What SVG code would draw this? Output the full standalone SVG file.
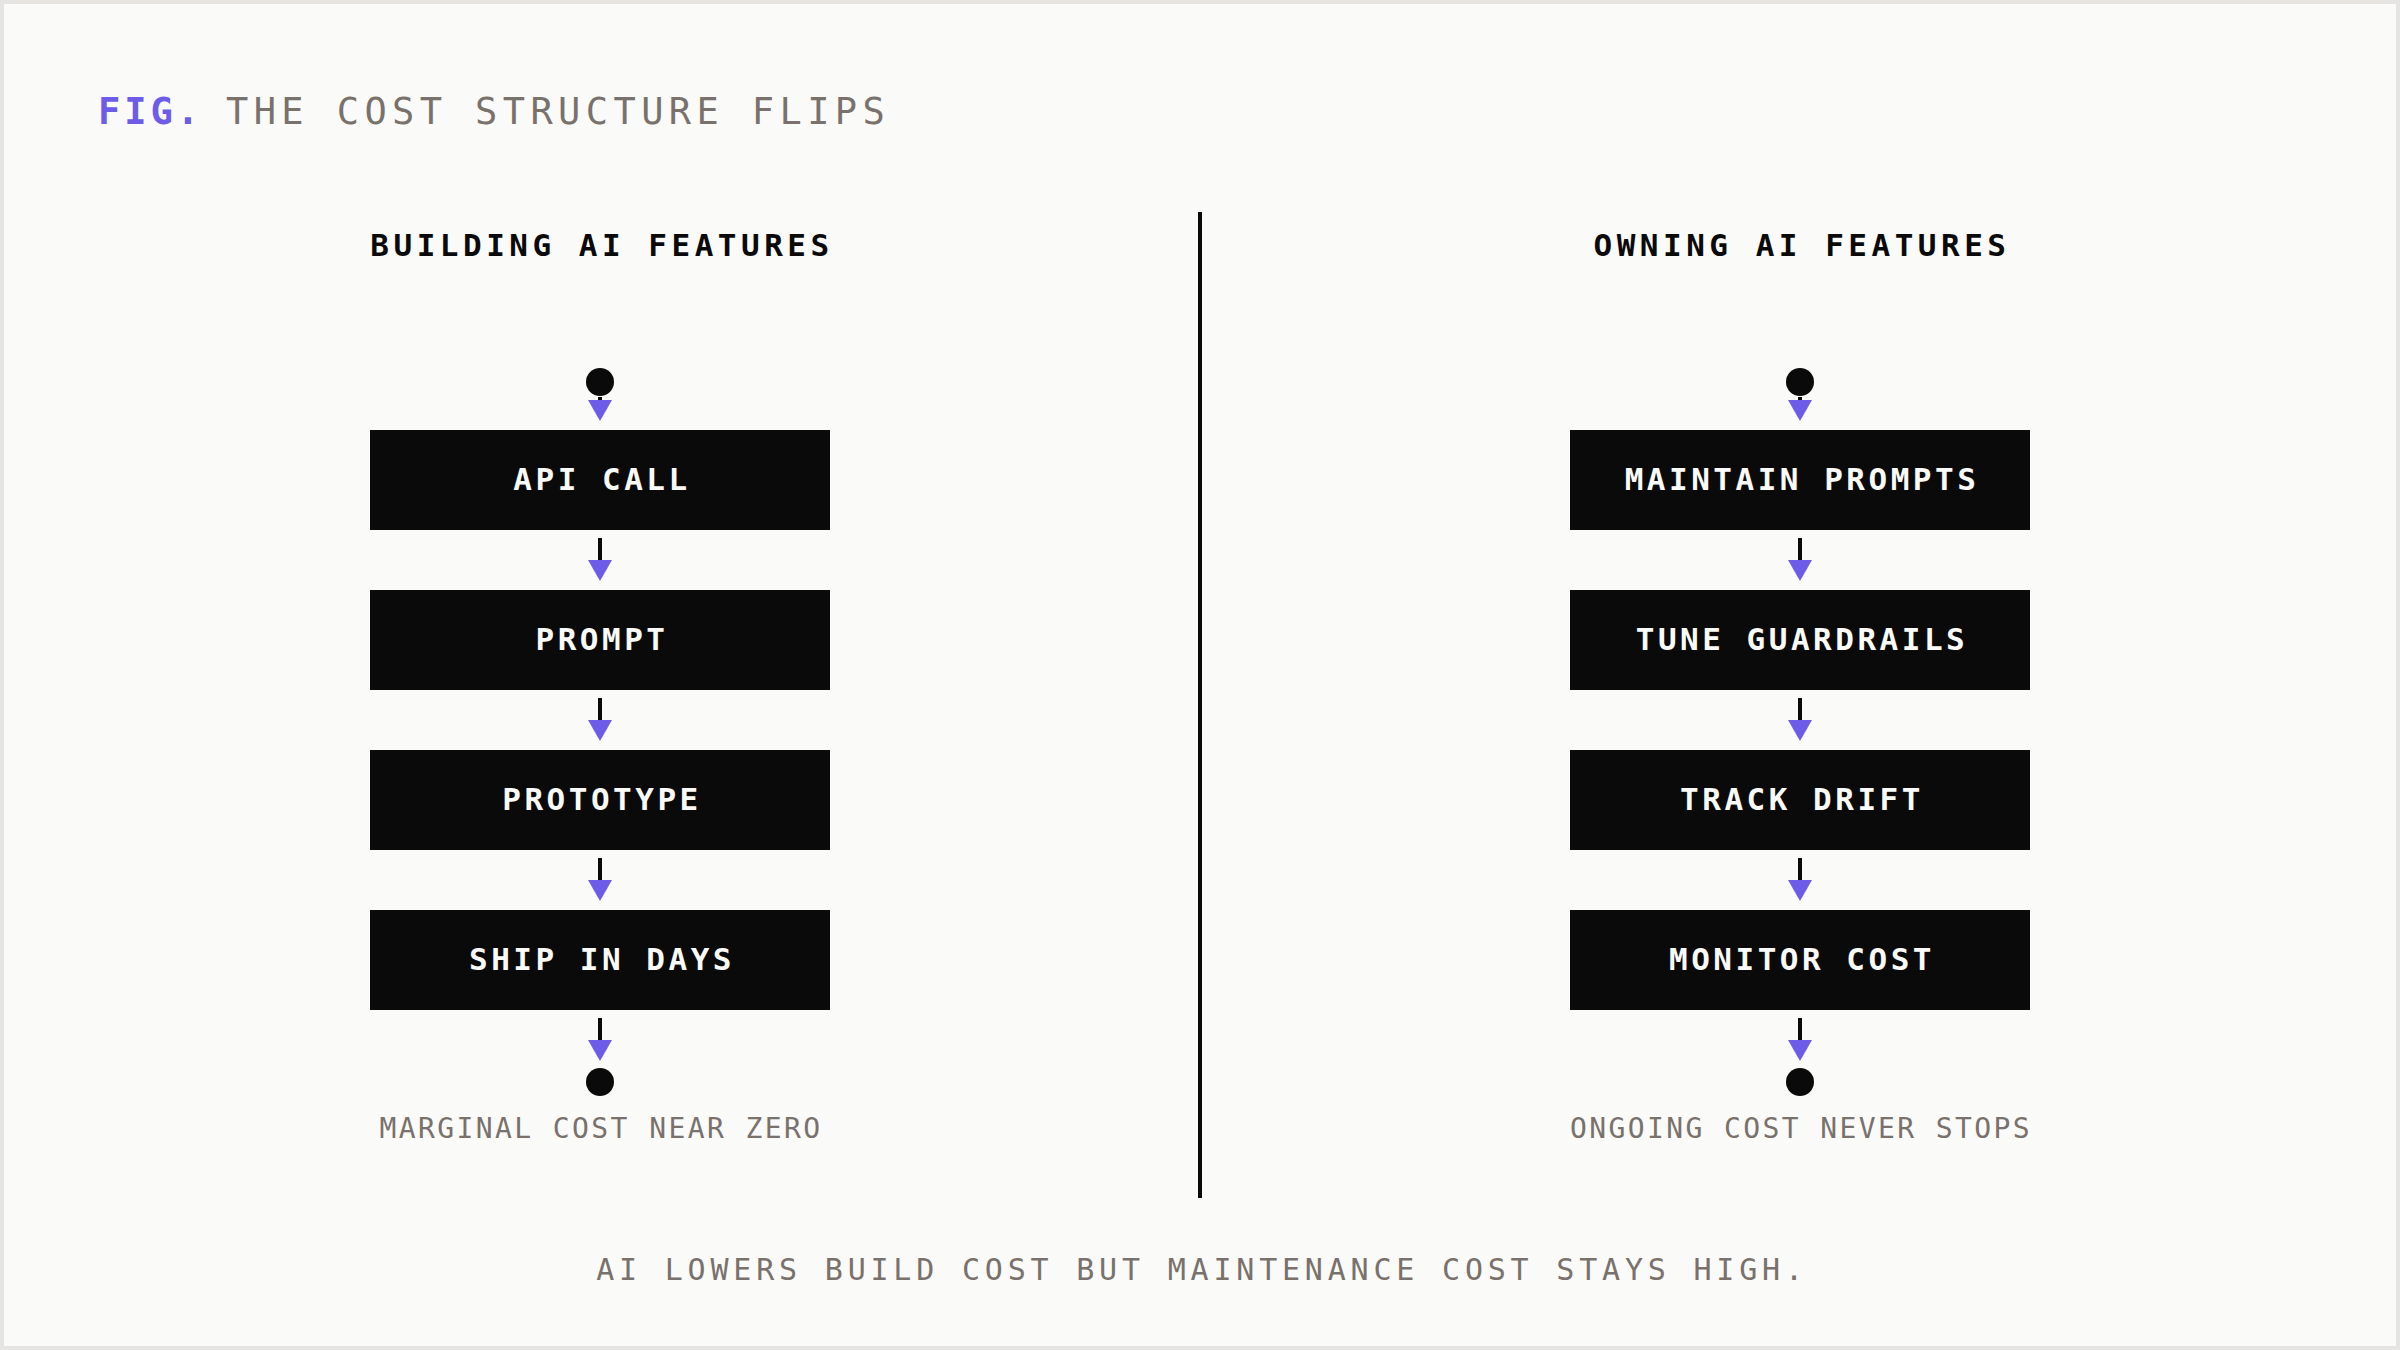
<svg xmlns="http://www.w3.org/2000/svg" width="2400" height="1350" viewBox="0 0 2400 1350">
<defs>
<style>
.mono{font-family:"DejaVu Sans Mono","Liberation Mono",monospace}
.title{font-size:37px;letter-spacing:5.4px;fill:#79716b}
.fig{font-size:37px;letter-spacing:4px;fill:#6c5ce7;font-weight:bold}
.head{font-size:31px;letter-spacing:4.5px;fill:#0a0a0a;font-weight:bold;text-anchor:middle}
.box{fill:#0a0a0a}
.btext{font-size:31px;letter-spacing:3.5px;fill:#fafaf8;font-weight:bold;text-anchor:middle}
.cap{font-size:28px;letter-spacing:2.4px;fill:#79716b;text-anchor:middle}
.foot{font-size:30px;letter-spacing:4.8px;fill:#79716b;text-anchor:middle}
.dot{fill:#0a0a0a}
.conn line{stroke:#0a0a0a;stroke-width:4;marker-end:url(#ah)}
</style>
<marker id="ah" viewBox="0 0 21 24" refX="0" refY="12" markerWidth="21" markerHeight="24" markerUnits="userSpaceOnUse" orient="auto">
<path d="M0,0 L21,12 L0,24 Z" fill="#6c5ce7"/>
</marker>
</defs>
<rect x="2" y="2" width="2396" height="1346" fill="#fafaf8" stroke="#e6e4e1" stroke-width="4"/>
<g id="title">
<text class="mono fig" x="98" y="124">FIG.</text>
<text class="mono title" x="226" y="124">THE COST STRUCTURE FLIPS</text>
</g>
<line id="divider" x1="1200" y1="212" x2="1200" y2="1198" stroke="#0a0a0a" stroke-width="4"/>
<g id="left-heading"><text class="mono head" x="602" y="256">BUILDING AI FEATURES</text></g>
<g id="right-heading"><text class="mono head" x="1802" y="256">OWNING AI FEATURES</text></g>

<g id="left-start"><circle class="dot" cx="600" cy="382" r="14"/></g>
<g id="left-api"><rect class="box" x="370" y="430" width="460" height="100"/><text class="mono btext" x="602" y="490">API CALL</text></g>
<g id="left-prompt"><rect class="box" x="370" y="590" width="460" height="100"/><text class="mono btext" x="602" y="650">PROMPT</text></g>
<g id="left-prototype"><rect class="box" x="370" y="750" width="460" height="100"/><text class="mono btext" x="602" y="810">PROTOTYPE</text></g>
<g id="left-ship"><rect class="box" x="370" y="910" width="460" height="100"/><text class="mono btext" x="602" y="970">SHIP IN DAYS</text></g>
<g id="left-end"><circle class="dot" cx="600" cy="1082" r="14"/><text class="mono cap" x="601" y="1138">MARGINAL COST NEAR ZERO</text></g>

<g id="right-start"><circle class="dot" cx="1800" cy="382" r="14"/></g>
<g id="right-maintain"><rect class="box" x="1570" y="430" width="460" height="100"/><text class="mono btext" x="1802" y="490">MAINTAIN PROMPTS</text></g>
<g id="right-tune"><rect class="box" x="1570" y="590" width="460" height="100"/><text class="mono btext" x="1802" y="650">TUNE GUARDRAILS</text></g>
<g id="right-track"><rect class="box" x="1570" y="750" width="460" height="100"/><text class="mono btext" x="1802" y="810">TRACK DRIFT</text></g>
<g id="right-monitor"><rect class="box" x="1570" y="910" width="460" height="100"/><text class="mono btext" x="1802" y="970">MONITOR COST</text></g>
<g id="right-end"><circle class="dot" cx="1800" cy="1082" r="14"/><text class="mono cap" x="1801" y="1138">ONGOING COST NEVER STOPS</text></g>

<g id="connectors" class="conn">
<line x1="600" y1="397" x2="600" y2="400"/>
<line x1="600" y1="538" x2="600" y2="560"/>
<line x1="600" y1="698" x2="600" y2="720"/>
<line x1="600" y1="858" x2="600" y2="880"/>
<line x1="600" y1="1018" x2="600" y2="1040"/>
<line x1="1800" y1="397" x2="1800" y2="400"/>
<line x1="1800" y1="538" x2="1800" y2="560"/>
<line x1="1800" y1="698" x2="1800" y2="720"/>
<line x1="1800" y1="858" x2="1800" y2="880"/>
<line x1="1800" y1="1018" x2="1800" y2="1040"/>
</g>
<g id="footer"><text class="mono foot" x="1202" y="1280">AI LOWERS BUILD COST BUT MAINTENANCE COST STAYS HIGH.</text></g>
</svg>
